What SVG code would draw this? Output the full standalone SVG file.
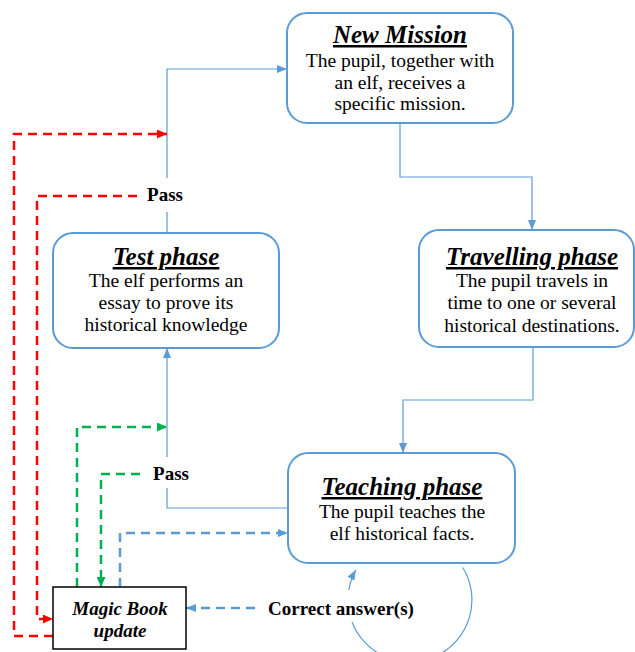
<svg xmlns="http://www.w3.org/2000/svg" width="635" height="652" viewBox="0 0 635 652">
<style>
.box{fill:#fff;stroke:#5B9BD5;stroke-width:2}
.title{font-family:"Liberation Serif",serif;font-weight:bold;font-style:italic;font-size:25px;text-anchor:middle;text-decoration:underline;fill:#000}
.body{font-family:"Liberation Serif",serif;font-size:19.5px;text-anchor:middle;fill:#000}
.lbl{font-family:"Liberation Serif",serif;font-weight:bold;font-size:19px;fill:#000}
.solid{fill:none;stroke:#5B9BD5;stroke-width:1.2}
.dred{fill:none;stroke:#FF0000;stroke-width:2.5;stroke-dasharray:9 6}
.dgreen{fill:none;stroke:#00B050;stroke-width:2.5;stroke-dasharray:9 6}
.dblue{fill:none;stroke:#5B9BD5;stroke-width:2.5;stroke-dasharray:9 6}
</style>
<defs>
<marker id="ab" markerWidth="10" markerHeight="8" refX="10" refY="4" orient="auto" markerUnits="userSpaceOnUse"><path d="M0,0 L10,4 L0,8 Z" fill="#5B9BD5"/></marker>
<marker id="ar" markerWidth="10" markerHeight="9" refX="10" refY="4.5" orient="auto" markerUnits="userSpaceOnUse"><path d="M0,0 L10,4.5 L0,9 Z" fill="#FF0000"/></marker>
<marker id="ag" markerWidth="10" markerHeight="9" refX="10" refY="4.5" orient="auto" markerUnits="userSpaceOnUse"><path d="M0,0 L10,4.5 L0,9 Z" fill="#00B050"/></marker>
</defs>
<g id="connectors">
<path class="solid" d="M400,123 V177 H532 V230" marker-end="url(#ab)"/>
<path class="solid" d="M533,347 V400 H403 V453" marker-end="url(#ab)"/>
<path class="solid" d="M288,508 H167 V488"/>
<path class="solid" d="M167,457 V348" marker-end="url(#ab)"/>
<path class="solid" d="M167,233 V212"/>
<path class="solid" d="M167,178 V69 H287" marker-end="url(#ab)"/>
<path class="solid" d="M462.8,567.5 A62,62 0 1 1 352,622"/>
<path class="solid" d="M348.8,590 A62,62 0 0 1 355.8,569.9" marker-end="url(#ab)"/>
<path class="dred" d="M53,636 H14 V134 H167" marker-end="url(#ar)"/>
<path class="dred" d="M137,196 H37 V619 H53" marker-end="url(#ar)"/>
<path class="dgreen" d="M77,587 V427 H167" marker-end="url(#ag)"/>
<path class="dgreen" d="M140,474 H101 V587" marker-end="url(#ag)"/>
<path class="dblue" d="M120,587 V533 H288" marker-end="url(#ab)"/>
<path class="dblue" d="M255,608 H186" marker-end="url(#ab)"/>
<text class="lbl" x="165" y="201" text-anchor="middle">Pass</text>
<text class="lbl" x="171" y="480" text-anchor="middle">Pass</text>
<text class="lbl" x="341" y="615" text-anchor="middle" font-size="19.5">Correct answer(s)</text>
</g>
<g id="new-mission">
<rect class="box" x="287" y="13" width="226" height="110" rx="20"/>
<text class="title" x="400" y="43">New Mission</text>
<text class="body" x="400" y="67">The pupil, together with</text>
<text class="body" x="400" y="89">an elf, receives a</text>
<text class="body" x="400" y="110">specific mission.</text>
</g>
<g id="travelling-phase">
<rect class="box" x="419" y="230" width="215" height="117" rx="20"/>
<text class="title" x="532" y="265">Travelling phase</text>
<text class="body" x="532" y="287">The pupil travels in</text>
<text class="body" x="532" y="309">time to one or several</text>
<text class="body" x="532" y="332">historical destinations.</text>
</g>
<g id="teaching-phase">
<rect class="box" x="288" y="453" width="227" height="110" rx="20"/>
<text class="title" x="402" y="495">Teaching phase</text>
<text class="body" x="402" y="518">The pupil teaches the</text>
<text class="body" x="402" y="540">elf historical facts.</text>
</g>
<g id="test-phase">
<rect class="box" x="53" y="233" width="226" height="115" rx="20"/>
<text class="title" x="166" y="265">Test phase</text>
<text class="body" x="166" y="287">The elf performs an</text>
<text class="body" x="166" y="309">essay to prove its</text>
<text class="body" x="166" y="331">historical knowledge</text>
</g>
<g id="magic-book">
<rect x="53" y="587" width="133" height="62" fill="#fff" stroke="#000" stroke-width="1.5"/>
<text x="120" y="615" text-anchor="middle" font-family="Liberation Serif, serif" font-weight="bold" font-style="italic" font-size="19">Magic Book</text>
<text x="120" y="637" text-anchor="middle" font-family="Liberation Serif, serif" font-weight="bold" font-style="italic" font-size="19">update</text>
</g>
</svg>
